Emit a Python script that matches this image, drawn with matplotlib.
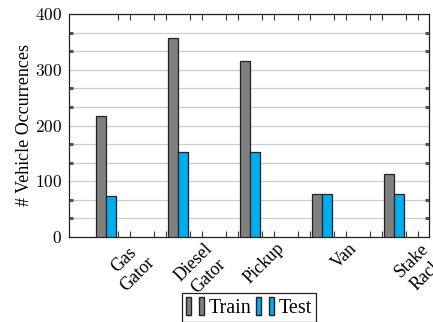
import numpy as np
import matplotlib
matplotlib.use("Agg")
import matplotlib.pyplot as plt
from matplotlib.patches import Patch
from matplotlib.legend_handler import HandlerTuple
from matplotlib.ticker import FuncFormatter, FixedLocator

plt.rcParams["font.family"] = ["Liberation Serif", "DejaVu Serif"]
plt.rcParams["mathtext.fontset"] = "cm"

categories = ["Gas\nGator", "Diesel\nGator", "Pickup", "Van", "Stake\nRack"]
train = [217, 357, 316, 78, 113]
test = [73, 152, 152, 78, 78]

GRAY = "#808080"
CYAN = "#00AEEF"

fig = plt.figure(figsize=(4.33, 3.22), dpi=100)
ax = fig.add_axes([69 / 433, 85 / 322, 360 / 433, 223 / 322])

x = np.arange(len(categories))
w = 0.139
ax.bar(x - w, train, w, align="edge", color=GRAY, edgecolor="#222222", linewidth=0.9, zorder=3)
ax.bar(x, test, w, align="edge", color=CYAN, edgecolor="#222222", linewidth=0.9, zorder=3)

ax.set_xlim(-0.507, 4.49)
ax.set_ylim(0, 400)

# y ticks + grid every 100/3
ax.set_yticks([0, 100, 200, 300, 400])
ax.yaxis.set_major_formatter(FuncFormatter(lambda v, p: r"$%d$" % v))
minor_y = [v for v in np.arange(0, 401, 100 / 3) if abs(v % 100) > 1 and abs(v % 100 - 100) > 1]
ax.yaxis.set_minor_locator(FixedLocator(minor_y))
ax.grid(True, axis="y", which="both", color="#cccccc", linewidth=0.9, zorder=0)
ax.tick_params(axis="y", which="major", direction="in", length=0, labelsize=12.5, pad=5,
               right=False)
ax.tick_params(axis="y", which="minor", direction="in", length=3, width=2.2,
               color="#555555", left=True, right=True)

# x ticks: small marks on top and bottom
xt = []
for i in range(len(categories)):
    xt += [i + 1 / 6, i + 1 / 3]
    if i < len(categories) - 1:
        xt += [i + 2 / 3, i + 5 / 6]
ax.set_xticks(xt)
ax.set_xticklabels([])
ax.tick_params(axis="x", direction="in", length=4, width=0.8, color="#333333",
               top=True, bottom=True)

for i, lab in enumerate(categories):
    ax.annotate(lab, xy=(i + 0.37, 0), xycoords=("data", "axes fraction"),
                xytext=(0, -2), textcoords="offset points",
                rotation=45, rotation_mode="anchor", ha="right", va="top",
                multialignment="center", linespacing=1.25, fontsize=13,
                annotation_clip=False)

ax.set_ylabel("# Vehicle Occurrences", fontsize=13, labelpad=1)

for s in ax.spines.values():
    s.set_linewidth(0.9)
    s.set_color("#222222")

h_train = (Patch(facecolor=GRAY, edgecolor="#222222"), Patch(facecolor=GRAY, edgecolor="#222222"))
h_test = (Patch(facecolor=CYAN, edgecolor="#222222"), Patch(facecolor=CYAN, edgecolor="#222222"))
leg = fig.legend([h_train, h_test], ["Train", "Test"],
                 handler_map={tuple: HandlerTuple(ndivide=None, pad=0.4)},
                 loc="upper center", bbox_to_anchor=(249 / 433, 29 / 322),
                 ncol=2, fontsize=14.5, frameon=True, fancybox=False,
                 edgecolor="#222222", framealpha=1, borderpad=0.2,
                 handlelength=0.9, handleheight=1.0, handletextpad=0.25,
                 columnspacing=0.2, borderaxespad=0)
leg.get_frame().set_linewidth(0.9)

fig.savefig("out.png", dpi=100)
